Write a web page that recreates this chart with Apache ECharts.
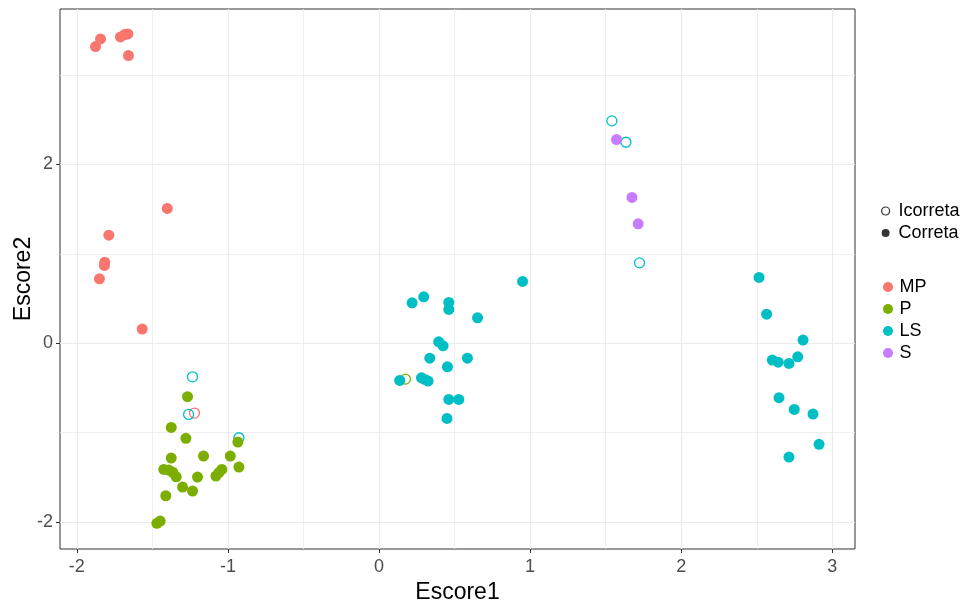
<!DOCTYPE html>
<html>
<head>
<meta charset="utf-8">
<script src="https://cdn.jsdelivr.net/npm/echarts@6/dist/echarts.min.js"></script>
<style>
  html, body { margin: 0; padding: 0; background: #ffffff; }
  #chart { width: 968px; height: 605px; }
</style>
</head>
<body>
<div id="chart"></div>
<script>
// Discriminant scores (Escore1, Escore2) per group; "correct" = classified correctly
const mpCorrect = [
  [-1.876, 3.319], [-1.843, 3.404], [-1.711, 3.426], [-1.684, 3.453], [-1.662, 3.460],
  [-1.658, 3.218], [-1.401, 1.507], [-1.788, 1.208], [-1.815, 0.906], [-1.817, 0.869],
  [-1.850, 0.719], [-1.567, 0.157]
];
const mpIncorrect = [[-1.221, -0.783]];

const pCorrect = [
  [-1.267, -0.600], [-1.375, -0.943], [-1.278, -1.066], [-1.375, -1.286], [-1.161, -1.264],
  [-0.984, -1.264], [-0.934, -1.107], [-0.927, -1.387], [-1.424, -1.413], [-1.391, -1.421],
  [-1.365, -1.445], [-1.342, -1.496], [-1.201, -1.499], [-1.079, -1.488], [-1.060, -1.450],
  [-1.040, -1.413], [-1.300, -1.611], [-1.234, -1.655], [-1.411, -1.708], [-1.470, -2.017],
  [-1.448, -1.991]
];
const pIncorrect = [[0.175, -0.403]];

const lsCorrect = [
  [0.950, 0.690], [0.219, 0.451], [0.296, 0.518], [0.462, 0.455], [0.462, 0.377],
  [0.652, 0.283], [0.395, 0.015], [0.424, -0.030], [0.336, -0.168], [0.585, -0.168],
  [0.453, -0.265], [0.137, -0.418], [0.281, -0.388], [0.303, -0.406], [0.325, -0.425],
  [0.462, -0.630], [0.528, -0.630], [0.450, -0.843],
  [2.515, 0.735], [2.565, 0.324], [2.806, 0.034], [2.771, -0.153], [2.603, -0.190],
  [2.642, -0.213], [2.713, -0.227], [2.647, -0.611], [2.748, -0.742], [2.872, -0.794],
  [2.912, -1.133], [2.713, -1.275]
];
const lsIncorrect = [
  [-1.234, -0.377], [-1.260, -0.798], [-0.927, -1.059],
  [1.541, 2.487], [1.634, 2.248], [1.724, 0.898]
];

const sCorrect = [[1.572, 2.278], [1.674, 1.630], [1.715, 1.335]];
const sIncorrect = [];

const groupNames = ['MP', 'P', 'LS', 'S'];
const groupColors = ['#F8766D', '#7CAE00', '#00BFC4', '#C77CFF'];
const statusNames = ['Icorreta', 'Correta'];

const xMajorTicks = [-2, -1, 0, 1, 2, 3];
const xMinorGrid = [-1.5, -0.5, 0.5, 1.5, 2.5];
const yMajorTicks = [-2, 0, 2];
const yMinorGrid = [-1, 1, 3];

const FONT = '"Liberation Sans", Arial, sans-serif';
const correctSets = [mpCorrect, pCorrect, lsCorrect, sCorrect];
const incorrectSets = [mpIncorrect, pIncorrect, lsIncorrect, sIncorrect];

const series = [];
// hollow markers for misclassified observations
groupNames.forEach((g, i) => {
  series.push({
    name: g + '_icorreta',
    type: 'scatter',
    xAxisIndex: 0, yAxisIndex: 0,
    data: incorrectSets[i],
    symbol: 'circle',
    symbolSize: 10,
    itemStyle: { color: 'rgba(255,255,255,0)', borderColor: groupColors[i], borderWidth: 1.3, opacity: 1 },
    emphasis: { disabled: true },
    z: 2
  });
});
// filled markers for correctly classified observations
groupNames.forEach((g, i) => {
  series.push({
    name: g,
    type: 'scatter',
    xAxisIndex: 0, yAxisIndex: 0,
    data: correctSets[i],
    symbol: 'circle',
    symbolSize: 11,
    itemStyle: { color: groupColors[i], opacity: 1 },
    emphasis: { disabled: true },
    z: 3
  });
});
// entries used only by the status legend
statusNames.forEach(s => {
  series.push({ name: s, type: 'scatter', data: [], itemStyle: { color: '#000' } });
});

const chart = echarts.init(document.getElementById('chart'), null, { renderer: 'canvas' });
chart.setOption({
  animation: false,
  backgroundColor: '#ffffff',
  textStyle: { fontFamily: FONT },
  grid: {
    left: 60, right: 113, top: 9, bottom: 56,
    outerBoundsMode: 'none', containLabel: false,
    show: true, borderColor: '#333333', borderWidth: 1, backgroundColor: '#ffffff', z: 0
  },
  xAxis: [
    {
      type: 'value', min: -2.111, max: 3.15,
      name: 'Escore1', nameLocation: 'middle', nameGap: 30,
      nameTextStyle: { fontFamily: FONT, fontSize: 23, color: '#000000' },
      axisLine: { show: false, onZero: false },
      axisTick: { show: true, length: 4, inside: false, customValues: xMajorTicks, lineStyle: { color: '#333333', width: 1 } },
      axisLabel: { show: true, margin: 9, customValues: xMajorTicks, fontFamily: FONT, fontSize: 18, color: '#4D4D4D' },
      splitLine: { show: true, lineStyle: { color: '#EBEBEB', width: 1.2 } }
    },
    {
      type: 'value', min: -2.111, max: 3.15, gridIndex: 0,
      axisLine: { show: false, onZero: false },
      axisTick: { show: false, customValues: xMinorGrid },
      axisLabel: { show: false, customValues: xMinorGrid },
      splitLine: { show: true, lineStyle: { color: '#EBEBEB', width: 0.8 } }
    }
  ],
  yAxis: [
    {
      type: 'value', min: -2.304, max: 3.739,
      name: 'Escore2', nameLocation: 'middle', nameGap: 25, nameRotate: 90, nameMoveOverlap: false,
      nameTextStyle: { fontFamily: FONT, fontSize: 23, color: '#000000' },
      axisLine: { show: false, onZero: false },
      axisTick: { show: true, length: 4, inside: false, customValues: yMajorTicks, lineStyle: { color: '#333333', width: 1 } },
      axisLabel: { show: true, margin: 7, customValues: yMajorTicks, fontFamily: FONT, fontSize: 18, color: '#4D4D4D' },
      splitLine: { show: true, lineStyle: { color: '#EBEBEB', width: 1.2 } }
    },
    {
      type: 'value', min: -2.304, max: 3.739, gridIndex: 0,
      axisLine: { show: false, onZero: false },
      axisTick: { show: false, customValues: yMinorGrid },
      axisLabel: { show: false, customValues: yMinorGrid },
      splitLine: { show: true, lineStyle: { color: '#EBEBEB', width: 0.8 } }
    }
  ],
  legend: [
    {
      orient: 'vertical', left: 881, top: 201, padding: 0, itemGap: 2,
      itemWidth: 16, itemHeight: 8, selectedMode: false,
      textStyle: { fontFamily: FONT, fontSize: 18, color: '#000000', lineHeight: 20 },
      data: [
        { name: 'Icorreta', icon: 'circle', itemStyle: { color: '#ffffff', borderColor: '#000000', borderWidth: 1.2 } },
        { name: 'Correta', icon: 'circle', itemStyle: { color: '#000000', borderWidth: 0 } }
      ]
    },
    {
      orient: 'vertical', left: 883, top: 277, padding: 0, itemGap: 2,
      itemWidth: 13, itemHeight: 10, selectedMode: false,
      textStyle: { fontFamily: FONT, fontSize: 18, color: '#000000', lineHeight: 20 },
      data: groupNames.map((g, i) => ({ name: g, icon: 'circle', itemStyle: { color: groupColors[i], borderWidth: 0 } }))
    }
  ],
  series: series
});
</script>
</body>
</html>
